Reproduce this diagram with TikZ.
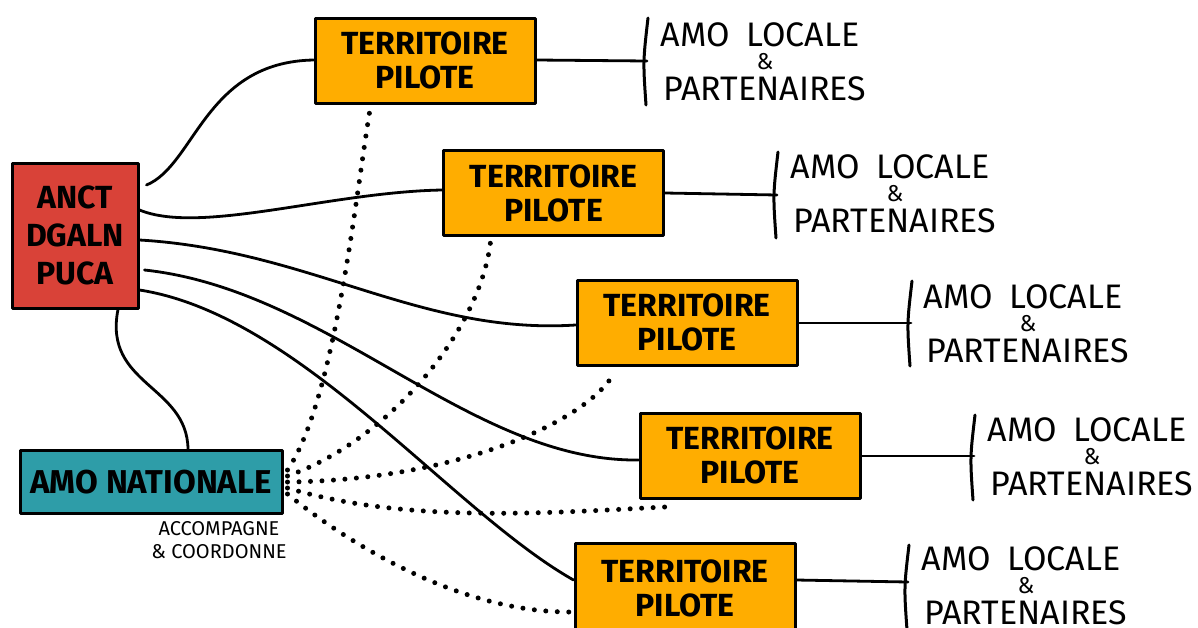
\documentclass[tikz,border=0pt]{standalone}
\usepackage{fontspec}
\setmainfont{Fira Sans}
\usetikzlibrary{calc}
\definecolor{ancred}{RGB}{217,66,56}
\definecolor{amoteal}{RGB}{46,157,168}
\definecolor{tporange}{RGB}{255,173,0}
\tikzset{
  box/.style={draw=black, line width=3pt, line join=round, align=center, inner sep=0pt,
    font=\fontsize{32}{34}\selectfont\bfseries},
  tpbox/.style={box, fill=tporange, minimum width=220pt, minimum height=85pt},
  conn/.style={line width=2.8pt, line cap=round},
  dotline/.style={line width=5pt, line cap=round, dash pattern=on 0pt off 11.5pt},
  bracket/.style={line width=3pt, line cap=round},
  loctext/.style={inner sep=0pt, font=\fontsize{34}{34}\selectfont},
  ampsign/.style={inner sep=0pt, font=\fontsize{23}{23}\selectfont},
}
% #1 = id, #2 = centre x of text, #3 = y of middle line
\newcommand{\locgroup}[3]{%
  \node[loctext] (loc#1a) at (#2-5,#3-27) {AMO\hspace{0.5em}LOCALE};
  \node[ampsign] (loc#1b) at (#2,#3) {\&};
  \node[loctext] (loc#1c) at (#2,#3+27) {PARTENAIRES};
}
\begin{document}
\begin{tikzpicture}[x=1pt, y=-1pt]
\useasboundingbox (0,0) rectangle (1198,627);
\clip (0,0) rectangle (1198,627);

% main boxes
\node[box, fill=ancred, minimum width=126pt, minimum height=145pt] (anct) at (75,235.5) {ANCT\\[4pt]DGALN\\[4pt]PUCA};
\node[box, fill=amoteal, minimum width=262pt, minimum height=63pt, font=\fontsize{33}{34}\selectfont\bfseries] (amo) at (151,482) {AMO NATIONALE};
\node[align=center, inner sep=0pt, font=\fontsize{20}{23}\selectfont] (acc) at (219,540) {ACCOMPAGNE\\\& COORDONNE};

% territoires
\node[tpbox] (t1) at (425,60.5) {TERRITOIRE\\PILOTE};
\node[tpbox] (t2) at (553.5,193) {TERRITOIRE\\PILOTE};
\node[tpbox] (t3) at (687,322.5) {TERRITOIRE\\PILOTE};
\node[tpbox] (t4) at (750,455.5) {TERRITOIRE\\PILOTE};
\node[tpbox, minimum height=90pt] (t5) at (685,588) {TERRITOIRE\\PILOTE};

% locale groups: brackets + texts
\coordinate (b1t) at (648,18);  \coordinate (b1b) at (646,105); \coordinate (b1) at (647,61);
\coordinate (b2t) at (778,152); \coordinate (b2b) at (776,238); \coordinate (b2) at (777,195);
\coordinate (b3t) at (912,281); \coordinate (b3b) at (910,366); \coordinate (b3) at (911,323);
\coordinate (b4t) at (975,415); \coordinate (b4b) at (973,500); \coordinate (b4) at (974,456);
\coordinate (b5t) at (909,545); \coordinate (b5b) at (907,630); \coordinate (b5) at (908,582);
\foreach \i in {1,...,5} {
  \draw[bracket] (b\i t) .. controls ($(b\i t)!0.5!(b\i b)+(-4,0)$) .. (b\i b);
}
\locgroup{1}{765}{62}
\locgroup{2}{895}{194}
\locgroup{3}{1028}{324}
\locgroup{4}{1092}{457}
\locgroup{5}{1026}{586}

\draw[conn] (t1.east |- 0,60) -- (b1);
\draw[conn] (t2.east |- 0,193) -- (b2);
\draw[conn] (t3.east |- 0,323) -- (b3);
\draw[conn] (t4.east |- 0,456) -- (b4);
\draw[conn] (t5.east |- 0,580) -- (b5);

% ANCT connectors
\draw[conn] ([xshift=7pt]anct.east |- 0,185) .. controls (195,165) and (205,62) .. (t1.west |- 0,60);
\draw[conn] (anct.east |- 0,210) .. controls (200,235) and (330,192) .. (t2.west |- 0,190);
\draw[conn] (anct.east |- 0,240) .. controls (310,250) and (420,335) .. (t3.west |- 0,325);
\draw[conn] ([xshift=5pt]anct.east |- 0,270) .. controls (330,290) and (470,462) .. (t4.west |- 0,460);
\draw[conn] (anct.east |- 0,290) .. controls (300,315) and (450,510) .. (t5.west |- 0,580);
\draw[conn] ([xshift=43pt]anct.south) .. controls (103,385) and (187,385) .. ([xshift=37pt]amo.north);

% AMO dotted connectors
\draw[dotline] ([xshift=4pt]amo.east |- 0,470) .. controls (335,400) and (355,200) .. ([xshift=-55pt,yshift=-5pt]t1.south);
\draw[dotline] ([xshift=4pt]amo.east |- 0,476) .. controls (390,440) and (480,330) .. ([xshift=-63pt,yshift=-5pt]t2.south);
\draw[dotline] ([xshift=4pt]amo.east |- 0,482) .. controls (460,480) and (590,420) .. ([xshift=-72pt,yshift=-5pt]t3.south);
\draw[dotline] ([xshift=4pt]amo.east |- 0,488) .. controls (410,525) and (560,512) .. ([xshift=-75pt,yshift=-7pt]t4.south);
\draw[dotline] ([xshift=4pt]amo.east |- 0,494) .. controls (350,545) and (460,612) .. ([xshift=-4pt]t5.west |- 0,612);
\end{tikzpicture}
\end{document}
